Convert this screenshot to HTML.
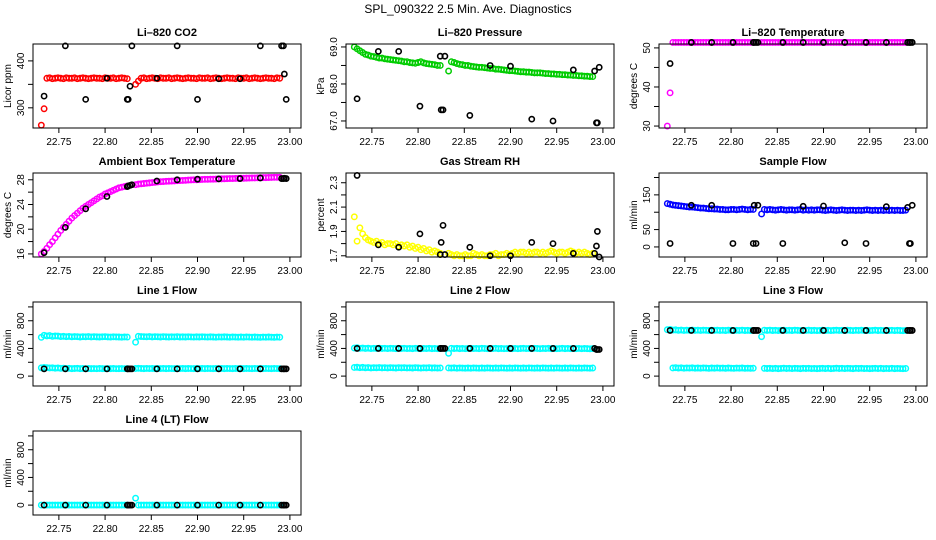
<!DOCTYPE html>
<html><head><meta charset="utf-8"><style>
html,body{margin:0;padding:0;background:#fff;}
svg{display:block;font-family:"Liberation Sans",Arial,sans-serif;}
</style></head><body>
<svg id="chart" width="936" height="540" viewBox="0 0 936 540">
<text x="468" y="13" text-anchor="middle" font-size="12">SPL_090322  2.5 Min. Ave. Diagnostics</text>
</svg>
<script>
const TA = [22.731,22.734,22.737,22.740,22.743,22.746,22.749,22.752,22.755,22.758,22.761,22.764,22.767,22.770,22.773,22.776,22.779,22.782,22.785,22.788,22.791,22.794,22.797,22.800,22.803,22.806,22.809,22.812,22.815,22.818,22.821,22.824];
const TB = [22.833,22.836,22.839,22.842,22.845,22.848,22.851,22.854,22.857,22.860,22.863,22.866,22.869,22.872,22.875,22.878,22.881,22.884,22.887,22.890,22.893,22.896,22.899,22.902,22.905,22.908,22.911,22.914,22.917,22.920,22.923,22.926,22.929,22.932,22.935,22.938,22.941,22.944,22.947,22.950,22.953,22.956,22.959,22.962,22.965,22.968,22.971,22.974,22.977,22.980,22.983,22.986,22.989];
const TDIAG = [22.734,22.757,22.779,22.802,22.824,22.825,22.827,22.829,22.856,22.878,22.900,22.923,22.946,22.968,22.991,22.993,22.994,22.996];
const xTicks = [22.75,22.80,22.85,22.90,22.95,23.00];
const xTickLabels = ["22.75","22.80","22.85","22.90","22.95","23.00"];

const co2A = [263,298,363,364,362,363,364,363,362,364,363,363,364,362,363,364,363,362,363,364,363,363,362,364,363,363,364,362,363,364,363,362];
const co2B = [350,357,363,364,362,363,364,363,362,364,363,363,364,362,363,364,363,362,363,364,363,363,362,364,363,363,364,362,363,364,363,362,363,364,363,363,362,364,363,363,364,362,363,364,363,362,363,364,363,363,362,364,363];
const co2D = [325,432,318,363,318,318,346,432,363,432,318,362,362,432,432,432,372,318];

const presA = [69.0,68.95,68.9,68.85,68.8,68.78,68.75,68.74,68.72,68.7,68.7,68.68,68.67,68.66,68.65,68.64,68.63,68.62,68.6,68.6,68.58,68.57,68.56,68.58,68.6,68.57,68.55,68.54,68.53,68.52,68.5,68.5];
const presB = [68.35,68.6,68.58,68.55,68.53,68.52,68.5,68.5,68.48,68.47,68.46,68.45,68.45,68.44,68.43,68.42,68.42,68.4,68.4,68.39,68.38,68.37,68.36,68.36,68.35,68.34,68.33,68.33,68.32,68.32,68.31,68.3,68.3,68.3,68.29,68.28,68.28,68.27,68.27,68.26,68.26,68.25,68.25,68.24,68.24,68.23,68.23,68.22,68.22,68.21,68.21,68.2,68.2];
const presD = [67.6,68.88,68.88,67.4,68.75,67.3,67.3,68.75,67.15,68.5,68.48,67.05,67.0,68.38,68.35,66.95,66.95,68.45];

const tempA = [30,38.5,51.4,51.4,51.4,51.4,51.4,51.4,51.4,51.4,51.4,51.4,51.4,51.4,51.4,51.4,51.4,51.4,51.4,51.4,51.4,51.4,51.4,51.4,51.4,51.4,51.4,51.4,51.4,51.4,51.4,51.4];
const tempB = [51.4,51.4,51.4,51.4,51.4,51.4,51.4,51.4,51.4,51.4,51.4,51.4,51.4,51.4,51.4,51.4,51.4,51.4,51.4,51.4,51.4,51.4,51.4,51.4,51.4,51.4,51.4,51.4,51.4,51.4,51.4,51.4,51.4,51.4,51.4,51.4,51.4,51.4,51.4,51.4,51.4,51.4,51.4,51.4,51.4,51.4,51.4,51.4,51.4,51.4,51.4,51.4,51.4];
const tempD = [46,51.4,51.4,51.4,51.4,51.4,51.4,51.4,51.4,51.4,51.4,51.4,51.4,51.4,51.4,51.4,51.4,51.4];

const ambA = [16.0,16.4,16.9,17.5,18.0,18.6,19.2,19.8,20.3,20.8,21.3,21.8,22.2,22.6,23.0,23.4,23.7,24.0,24.3,24.6,24.9,25.2,25.4,25.7,25.9,26.1,26.3,26.5,26.7,26.8,26.9,27.0];
const ambB = [27.2,27.3,27.35,27.4,27.45,27.5,27.55,27.6,27.65,27.7,27.72,27.75,27.78,27.8,27.82,27.85,27.87,27.9,27.92,27.95,27.97,28.0,28.0,28.02,28.05,28.07,28.08,28.1,28.1,28.12,28.14,28.15,28.16,28.18,28.2,28.2,28.22,28.23,28.25,28.25,28.27,28.28,28.3,28.3,28.32,28.33,28.35,28.35,28.37,28.38,28.4,28.4,28.4];
const ambD = [16.2,20.3,23.3,25.3,26.9,27.0,27.1,27.2,27.8,28.0,28.1,28.15,28.2,28.3,28.2,28.2,28.25,28.2];

const rhA = [2.02,1.82,1.93,1.88,1.85,1.83,1.82,1.81,1.82,1.80,1.81,1.79,1.80,1.80,1.79,1.80,1.78,1.79,1.78,1.79,1.77,1.78,1.76,1.77,1.75,1.76,1.74,1.75,1.73,1.74,1.73,1.72];
const rhB = [1.72,1.71,1.70,1.71,1.70,1.70,1.71,1.70,1.70,1.72,1.71,1.70,1.71,1.70,1.70,1.71,1.71,1.72,1.70,1.71,1.71,1.72,1.71,1.72,1.73,1.72,1.73,1.73,1.72,1.73,1.72,1.73,1.73,1.72,1.73,1.72,1.73,1.74,1.73,1.72,1.73,1.73,1.72,1.73,1.74,1.73,1.72,1.73,1.72,1.73,1.72,1.71,1.72];
const rhD = [2.36,1.79,1.77,1.88,1.71,1.81,1.95,1.71,1.77,1.70,1.70,1.81,1.80,1.72,1.72,1.78,1.90,1.69];

const sfA = [125,123,121,120,119,118,117,116,115,115,114,113,112,112,111,110,110,109,109,108,108,107,107,108,108,107,108,109,108,107,108,108];
const sfB = [95,108,107,108,107,106,107,108,107,106,107,107,106,107,108,106,107,106,107,106,107,107,106,105,106,107,106,105,106,107,106,105,106,106,105,106,105,106,107,106,105,106,105,106,105,106,105,106,105,106,105,105,106];
const sfD = [10,120,120,10,10,120,10,120,10,117,118,12,10,116,114,10,10,120];

const l1upA = [560,590,580,585,575,580,578,572,575,570,573,568,572,570,565,570,568,572,566,570,567,565,568,570,566,564,568,566,565,563,566,564];
const l1upB = [490,575,572,570,568,572,566,570,568,565,570,567,565,568,566,570,565,567,565,568,566,564,567,565,568,566,564,567,565,563,566,564,567,565,563,566,564,562,565,563,566,564,562,565,563,561,564,562,565,563,561,564,562];
const l1loA = [120,125,122,118,120,115,118,112,115,110,112,108,110,112,108,110,107,110,108,109,107,110,108,107,109,108,110,107,108,109,107,108];
const l1loB = [110,112,110,108,111,109,110,108,110,109,111,108,110,109,108,110,109,111,108,110,109,108,110,109,111,108,110,109,108,110,109,111,108,110,109,108,110,109,111,108,110,109,108,110,109,111,108,110,109,108,110,109,108];
const l1D = [105,105,105,105,105,105,105,105,105,105,105,105,105,105,105,105,105,105];

const l2upA = [405,410,402,406,400,404,398,402,400,403,399,401,398,402,400,397,401,399,402,398,400,397,401,399,396,400,398,401,397,399,396,398];
const l2upB = [330,402,398,401,397,400,396,399,402,398,400,397,401,399,396,400,398,401,397,399,396,398,401,397,400,396,399,402,398,400,397,401,399,396,400,398,401,397,399,396,398,401,397,400,396,399,397,400,396,399,397,395,398];
const l2loA = [125,128,122,126,120,124,118,122,120,123,119,121,118,122,120,117,121,119,122,118,120,117,121,119,116,120,118,121,117,119,116,118];
const l2loB = [118,116,119,115,118,116,114,117,115,118,116,114,117,115,118,116,114,117,115,118,116,114,117,115,118,116,114,117,115,118,116,114,117,115,118,116,114,117,115,118,116,114,117,115,118,116,114,117,115,118,116,114,117];
const l2D = [400,400,400,400,400,400,400,400,400,400,400,400,400,400,400,385,385,385];

const l3upA = [670,675,665,668,662,666,660,664,662,665,661,663,660,664,662,659,663,661,664,660,662,659,663,661,658,662,660,663,659,661,658,660];
const l3upB = [570,664,660,663,659,662,658,661,664,660,662,659,663,661,658,662,660,663,659,661,658,660,663,659,662,658,661,664,660,662,659,663,661,658,662,660,663,659,661,658,660,663,659,662,658,661,659,662,658,661,659,657,660];
const l3loA = [null,null,118,122,116,120,114,118,116,119,115,117,114,118,116,113,117,115,118,114,116,113,117,115,112,116,114,117,113,115,112,114];
const l3loB = [null,112,110,113,109,112,108,111,114,110,112,109,113,111,108,112,110,113,109,111,108,110,113,109,112,108,111,114,110,112,109,113,111,108,112,110,113,109,111,108,110,113,109,112,108,111,109,112,108,111,109,107,110];
const l3D = [660,660,660,660,660,660,660,660,660,660,660,660,660,660,660,660,660,660];

const l4A = [0,0,0,0,0,0,0,0,0,0,0,0,0,0,0,0,0,0,0,0,0,0,0,0,0,0,0,0,0,0,0,0];
const l4B = [100,0,0,0,0,0,0,0,0,0,0,0,0,0,0,0,0,0,0,0,0,0,0,0,0,0,0,0,0,0,0,0,0,0,0,0,0,0,0,0,0,0,0,0,0,0,0,0,0,0,0,0,0];
const l4D = [0,0,0,0,0,0,0,0,0,0,0,0,0,0,0,0,0,0];

const NS = "http://www.w3.org/2000/svg";
const svg = document.getElementById('chart');
function el(tag, attrs, parent){
  const e = document.createElementNS(NS, tag);
  for (const k in attrs) e.setAttribute(k, attrs[k]);
  (parent||svg).appendChild(e);
  return e;
}
const flowTicks=[0,200,400,600,800,1000], flowLabels=[0,400,800];
const panels = [
 {name:'li820-co2', title:'Li\u2013820 CO2', ylab:'Licor ppm', col:0,row:0, yd:[257,436], ticks:[300,350,400], labels:[300,400], fmt:0,
  series:[[co2A,co2B,'#ff0000']], diag:co2D},
 {name:'li820-pressure', title:'Li\u2013820 Pressure', ylab:'kPa', col:1,row:0, yd:[66.81,69.08], ticks:[67,67.5,68,68.5,69], labels:[67,68,69], fmt:1,
  series:[[presA,presB,'#00cc00']], diag:presD},
 {name:'li820-temperature', title:'Li\u2013820 Temperature', ylab:'degrees C', col:2,row:0, yd:[29.5,51.0], ticks:[30,35,40,45,50], labels:[30,40,50], fmt:0,
  series:[[tempA,tempB,'#ff00ff']], diag:tempD},
 {name:'ambient-box-temperature', title:'Ambient Box Temperature', ylab:'degrees C', col:0,row:1, yd:[15.5,29.1], ticks:[16,18,20,22,24,26,28], labels:[16,20,24,28], fmt:0,
  series:[[ambA,ambB,'#ff00ff']], diag:ambD},
 {name:'gas-stream-rh', title:'Gas Stream RH', ylab:'percent', col:1,row:1, yd:[1.69,2.38], ticks:[1.7,1.8,1.9,2.0,2.1,2.2,2.3], labels:[1.7,1.9,2.1,2.3], fmt:1,
  series:[[rhA,rhB,'#ffff00']], diag:rhD},
 {name:'sample-flow', title:'Sample Flow', ylab:'ml/min', col:2,row:1, yd:[-29,213], ticks:[0,50,100,150,200], labels:[0,50,150], fmt:0,
  series:[[sfA,sfB,'#0000ff']], diag:sfD},
 {name:'line1-flow', title:'Line 1 Flow', ylab:'ml/min', col:0,row:2, yd:[-143,1071], ticks:flowTicks, labels:flowLabels, fmt:0,
  series:[[l1upA,l1upB,'#00ffff'],[l1loA,l1loB,'#00ffff']], diag:l1D},
 {name:'line2-flow', title:'Line 2 Flow', ylab:'ml/min', col:1,row:2, yd:[-143,1071], ticks:flowTicks, labels:flowLabels, fmt:0,
  series:[[l2upA,l2upB,'#00ffff'],[l2loA,l2loB,'#00ffff']], diag:l2D},
 {name:'line3-flow', title:'Line 3 Flow', ylab:'ml/min', col:2,row:2, yd:[-143,1071], ticks:flowTicks, labels:flowLabels, fmt:0,
  series:[[l3upA,l3upB,'#00ffff'],[l3loA,l3loB,'#00ffff']], diag:l3D},
 {name:'line4-lt-flow', title:'Line 4 (LT) Flow', ylab:'ml/min', col:0,row:3, yd:[-143,1071], ticks:flowTicks, labels:flowLabels, fmt:0,
  series:[[l4A,l4B,'#00ffff']], diag:l4D}
];
const XD=[22.722,23.012];
panels.forEach(p=>{
  const L=33+313*p.col, T=44+129*p.row, W=268, H=84;
  const g = el('g',{});
  
  
  const xs=v=>L+(v-XD[0])/(XD[1]-XD[0])*W;
  const ys=v=>T+H-(v-p.yd[0])/(p.yd[1]-p.yd[0])*H;
  const t=el('text',{x:L+W/2,y:T-8,'text-anchor':'middle','font-size':11,'font-weight':'bold'},g);
  t.textContent=p.title;
  
  
  p.series.forEach((s,si)=>{
    [[TA,s[0]],[TB,s[1]]].forEach(([tt,vv])=>{
      const n=Math.min(tt.length,vv.length);
      for(let i=0;i<n;i++){
        if(vv[i]===null) continue;
        const c=el('circle',{cx:xs(tt[i]),cy:ys(vv[i]),r:2.7,fill:'none',stroke:s[2],'stroke-width':1.5},g);
        
        
      }
    });
  });
  for(let i=0;i<Math.min(TDIAG.length,p.diag.length);i++){
    const c=el('circle',{cx:xs(TDIAG[i]),cy:ys(p.diag[i]),r:2.6,fill:'none',stroke:'#000','stroke-width':1.6},g);
    
    
  }
  const box=el('rect',{x:L,y:T,width:W,height:H,fill:'none',stroke:'#000','stroke-width':1},g);
  
  
  xTicks.forEach((v,i)=>{
    const x=xs(v);
    el('line',{x1:x,x2:x,y1:T+H,y2:T+H+5,stroke:'#000'},g);
    const lt=el('text',{x:x,y:T+H+17,'text-anchor':'middle','font-size':10},g);
    lt.textContent=xTickLabels[i];
    
    
  });
  p.ticks.forEach(v=>{
    const y=ys(v);
    el('line',{x1:L-5,x2:L,y1:y,y2:y,stroke:'#000'},g);
  });
  p.labels.forEach(v=>{
    const y=ys(v);
    const lt=el('text',{x:0,y:0,'text-anchor':'middle','font-size':10,transform:`translate(${L-9},${y}) rotate(-90)`},g);
    lt.textContent=v.toFixed(p.fmt);
    
    
  });
  const yl=el('text',{x:0,y:0,'text-anchor':'middle','font-size':10,transform:`translate(${L-22},${T+H/2}) rotate(-90)`},g);
  yl.textContent=p.ylab;
  
  
});
</script>
</body></html>
